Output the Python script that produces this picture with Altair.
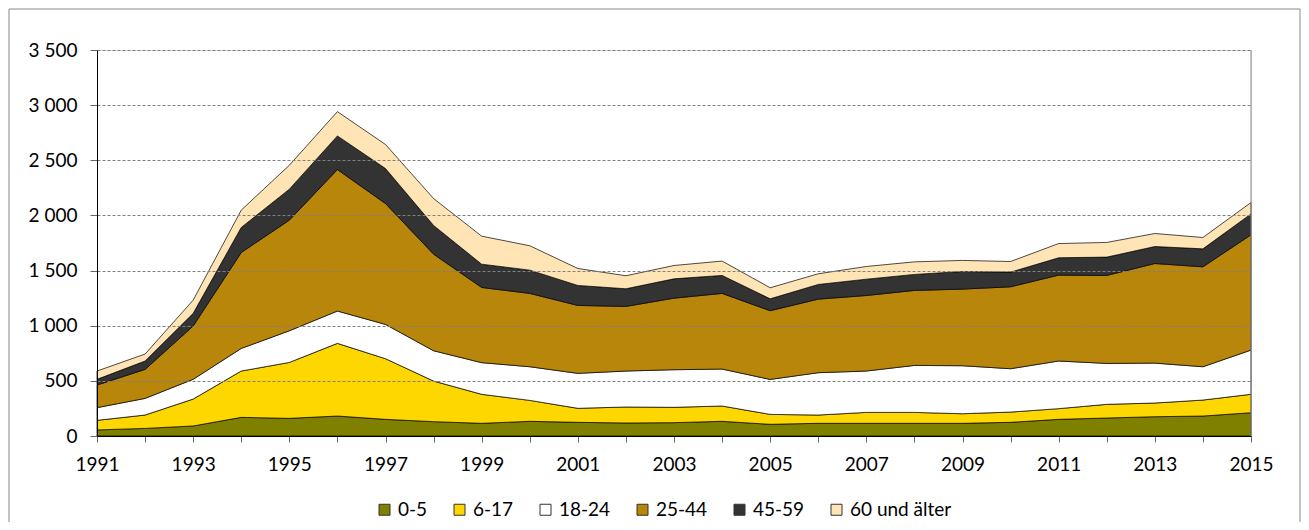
import altair as alt
import pandas as pd

years = list(range(1991, 2016))
groups = ["0-5", "6-17", "18-24", "25-44", "45-59", "60 und älter"]
colors = ["#808000", "#FFD700", "#FFFFFF", "#B8860B", "#333333", "#FFE4B5"]

v_0_5 = [55, 69, 91, 169, 160, 181, 151, 130, 115, 133, 124, 118, 121, 133, 106, 115, 115, 115, 115, 124, 151, 163, 175, 181, 211]
v_6_17 = [87, 121, 244, 420, 507, 659, 550, 368, 263, 190, 127, 145, 139, 139, 90, 75, 99, 99, 87, 93, 97, 124, 124, 145, 167]
v_18_24 = [115, 151, 179, 205, 287, 293, 311, 275, 287, 305, 317, 326, 341, 335, 317, 384, 375, 426, 435, 393, 432, 371, 362, 302, 401]
v_25_44 = [205, 263, 483, 870, 1003, 1283, 1096, 876, 682, 665, 616, 586, 649, 686, 623, 667, 685, 680, 695, 743, 779, 798, 903, 906, 1045]
v_45_59 = [52, 76, 115, 227, 281, 305, 317, 260, 211, 211, 181, 160, 175, 163, 108, 133, 148, 145, 160, 133, 157, 166, 154, 163, 190]
v_60 = [75, 63, 120, 157, 217, 220, 218, 244, 254, 221, 154, 118, 121, 130, 100, 97, 115, 114, 100, 96, 129, 133, 118, 103, 103]

series = [v_0_5, v_6_17, v_18_24, v_25_44, v_45_59, v_60]
rows = []
for gi, (g, vals) in enumerate(zip(groups, series)):
    for y, v in zip(years, vals):
        rows.append({"year": y, "group": g, "value": v, "ord": gi})
df = pd.DataFrame(rows)

W, H = 1154, 386
FONT = "Lato"
FS = 19

areas = alt.Chart(df).mark_area(stroke="#000000", strokeWidth=0.7, opacity=1).encode(
    x=alt.X("year:Q",
            scale=alt.Scale(domain=[1991, 2015], nice=False, zero=False),
            axis=alt.Axis(title=None, values=years, grid=False,
                          labelExpr="datum.value % 2 == 1 ? format(datum.value, 'd') : ''",
                          tickSize=6, labelPadding=13, tickColor="#666666",
                          domainColor="#000000", labelFontSize=FS, labelColor="#000000",
                          labelFont=FONT, labelFlush=False, labelOverlap=False, zindex=1)),
    y=alt.Y("value:Q", stack="zero",
            scale=alt.Scale(domain=[0, 3500], nice=False),
            axis=alt.Axis(title=None, values=list(range(0, 3501, 500)),
                          labelExpr="replace(format(datum.value, ','), ',', ' ')",
                          grid=True, gridDash=[3, 2], gridColor="#808080", gridWidth=1,
                          tickSize=7, labelPadding=13, tickColor="#666666",
                          domainColor="#000000", labelFontSize=FS, labelColor="#000000",
                          labelFont=FONT, zindex=1)),
    color=alt.Color("group:N",
                    scale=alt.Scale(domain=groups, range=colors),
                    legend=alt.Legend(title=None, orient="none", legendX=278, legendY=450,
                                      direction="horizontal", symbolType="square",
                                      symbolSize=121, symbolStrokeColor="#333333",
                                      symbolStrokeWidth=1, labelFontSize=FS,
                                      labelFont=FONT, labelColor="#000000",
                                      labelOffset=4, columnPadding=22)),
    order=alt.Order("ord:Q"),
)

deco = pd.DataFrame({"a": [0]})
frame = alt.Chart(deco).mark_rect(fill="transparent", stroke="#888888", strokeWidth=1).encode(
    x=alt.value(-88), x2=alt.value(1203), y=alt.value(-41), y2=alt.value(490)
)
right_border = alt.Chart(deco).mark_rule(color="#888888", strokeWidth=1).encode(
    x=alt.value(W), y=alt.value(0), y2=alt.value(H)
)

chart = alt.layer(frame, areas, right_border).properties(
    width=W, height=H,
    autosize=alt.AutoSizeParams(type="none"),
    padding={"left": 89, "top": 42, "right": 50, "bottom": 86},
).configure_view(stroke=None).configure(background="white")

chart.save("out.html", embed_options={"renderer": "svg", "actions": False})
